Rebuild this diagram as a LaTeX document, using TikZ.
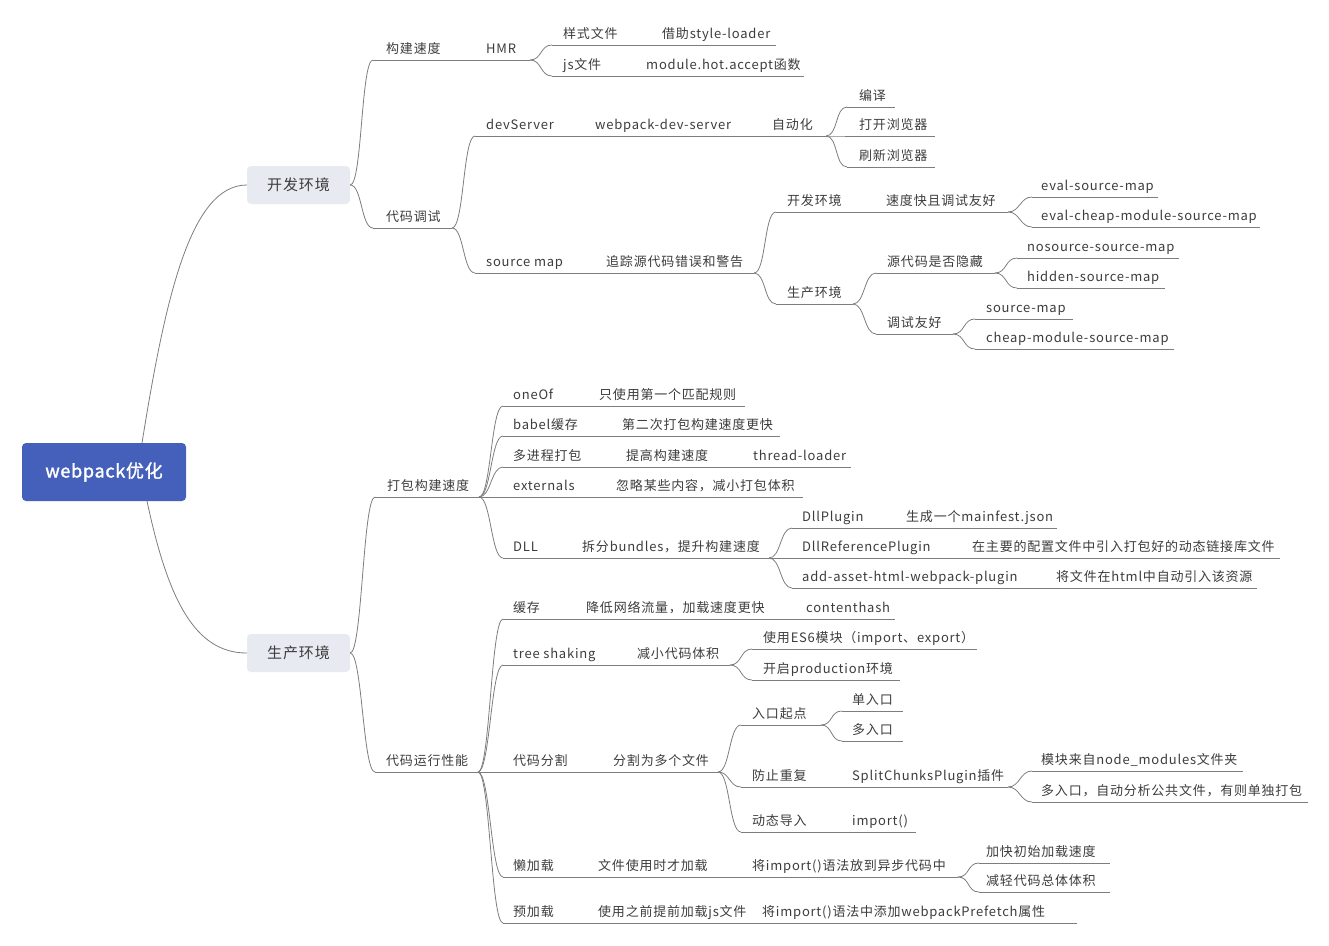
\documentclass[tikz,border=0pt]{standalone}
\usepackage{fontspec}
\newfontfamily\cjk[LetterSpace=6]{Noto Sans CJK SC}
\newfontfamily\cjkbold[LetterSpace=4,FakeBold=1.6]{Noto Sans CJK SC}
\definecolor{linegray}{RGB}{125,125,125}
\definecolor{txtgray}{RGB}{60,60,60}
\definecolor{rootblue}{RGB}{69,96,186}
\definecolor{boxfill}{RGB}{232,234,242}
\tikzset{
  uline/.style={draw=linegray, line width=0.8pt},
  txt/.style={anchor=base west, inner sep=0pt, text=txtgray, font=\cjk\fontsize{13}{15}\selectfont},
  rootbox/.style={fill=rootblue, rounded corners=4pt, minimum width=164pt, minimum height=58pt, inner sep=0pt, text=white, font=\cjkbold\fontsize{18}{20}\selectfont},
  envbox/.style={fill=boxfill, rounded corners=4pt, minimum width=103pt, minimum height=38pt, inner sep=0pt, text=txtgray, font=\cjk\fontsize{15}{17}\selectfont}
}
\newcommand\mmline[4]{\coordinate (#1s) at (#2,#4); \coordinate (#1e) at (#3,#4); \draw[uline] (#1s) -- (#1e);}
\newcommand\mmtxt[4]{\node[txt] (#1) at (#2,#3-7) {#4};}
\newcommand\mmconn[2]{\draw[uline] (#1) .. controls +(12,0) and +(-12,0) .. (#2);}
\begin{document}
\begin{tikzpicture}[x=1pt,y=-1pt]
\useasboundingbox (0,0) rectangle (1329,945);
% main boxes
\node[rootbox] (root) at (104,472) {webpack优化};
\node[envbox] (dev) at (298.5,185) {开发环境};
\node[envbox] (prod) at (298.5,653) {生产环境};
\coordinate (rootT) at (142,443);
\coordinate (rootB) at (147,501);
\draw[uline] (rootT) .. controls (165,300) and (190,185) .. (dev.west);
\draw[uline] (rootB) .. controls (168,600) and (195,653) .. (prod.west);

% ---------- development ----------
\mmline{L1}{373}{530}{60} \mmtxt{t1a}{386}{60}{构建速度} \mmtxt{t1b}{486}{60}{HMR}
\mmline{L2}{552}{776}{45} \mmtxt{t2a}{563}{45}{样式文件} \mmtxt{t2b}{662}{45}{借助style-loader}
\mmline{L3}{552}{804}{76} \mmtxt{t3a}{563}{76}{js文件} \mmtxt{t3b}{646}{76}{module.hot.accept函数}
\mmline{L4}{373}{452}{228} \mmtxt{t4a}{386}{228}{代码调试}
\mmline{L5}{475}{826}{136} \mmtxt{t5a}{486}{136}{devServer} \mmtxt{t5b}{595}{136}{webpack-dev-server} \mmtxt{t5c}{772}{136}{自动化}
\mmline{L6}{847}{895}{107} \mmtxt{t6a}{859}{107}{编译}
\mmline{L7}{847}{935}{136} \mmtxt{t7a}{859}{136}{打开浏览器}
\mmline{L8}{847}{935}{167} \mmtxt{t8a}{859}{167}{刷新浏览器}
\mmline{L9}{475}{754}{273} \mmtxt{t9a}{486}{273}{source map} \mmtxt{t9b}{606}{273}{追踪源代码错误和警告}
\mmline{L10}{776}{1008}{212} \mmtxt{t10a}{787}{212}{开发环境} \mmtxt{t10b}{886}{212}{速度快且调试友好}
\mmline{L11}{1032}{1158}{197} \mmtxt{t11a}{1041}{197}{eval-source-map}
\mmline{L12}{1032}{1260}{227} \mmtxt{t12a}{1041}{227}{eval-cheap-module-source-map}
\mmline{L13}{776}{853}{304} \mmtxt{t13a}{787}{304}{生产环境}
\mmline{L14}{876}{995}{273} \mmtxt{t14a}{887}{273}{源代码是否隐藏}
\mmline{L15}{1017}{1179}{258} \mmtxt{t15a}{1027}{258}{nosource-source-map}
\mmline{L16}{1017}{1165}{288} \mmtxt{t16a}{1027}{288}{hidden-source-map}
\mmline{L17}{876}{953}{334} \mmtxt{t17a}{887}{334}{调试友好}
\mmline{L18}{975}{1073}{319} \mmtxt{t18a}{986}{319}{source-map}
\mmline{L19}{975}{1174}{349} \mmtxt{t19a}{986}{349}{cheap-module-source-map}

\mmconn{dev.east}{L1s} \mmconn{dev.east}{L4s}
\mmconn{L1e}{L2s} \mmconn{L1e}{L3s}
\mmconn{L4e}{L5s} \mmconn{L4e}{L9s}
\mmconn{L5e}{L6s} \mmconn{L5e}{L7s} \mmconn{L5e}{L8s}
\mmconn{L9e}{L10s} \mmconn{L9e}{L13s}
\mmconn{L10e}{L11s} \mmconn{L10e}{L12s}
\mmconn{L13e}{L14s} \mmconn{L13e}{L17s}
\mmconn{L14e}{L15s} \mmconn{L14e}{L16s}
\mmconn{L17e}{L18s} \mmconn{L17e}{L19s}

% ---------- production ----------
\mmline{P1}{375}{479}{497} \mmtxt{p1a}{387}{497}{打包构建速度}
\mmline{P2}{503}{745}{406} \mmtxt{p2a}{513}{406}{oneOf} \mmtxt{p2b}{599}{406}{只使用第一个匹配规则}
\mmline{P3}{503}{780}{436} \mmtxt{p3a}{513}{436}{babel缓存} \mmtxt{p3b}{622}{436}{第二次打包构建速度更快}
\mmline{P4}{503}{851}{467} \mmtxt{p4a}{513}{467}{多进程打包} \mmtxt{p4b}{626}{467}{提高构建速度} \mmtxt{p4c}{753}{467}{thread-loader}
\mmline{P5}{503}{803}{497} \mmtxt{p5a}{513}{497}{externals} \mmtxt{p5b}{616}{497}{忽略某些内容，减小打包体积}
\mmline{P6}{503}{769}{558} \mmtxt{p6a}{513}{558}{DLL} \mmtxt{p6b}{582}{558}{拆分bundles，提升构建速度}
\mmline{P7}{792}{1057}{528} \mmtxt{p7a}{802}{528}{DllPlugin} \mmtxt{p7b}{906}{528}{生成一个mainfest.json}
\mmline{P8}{792}{1280}{558} \mmtxt{p8a}{802}{558}{DllReferencePlugin} \mmtxt{p8b}{972}{558}{在主要的配置文件中引入打包好的动态链接库文件}
\mmline{P9}{792}{1257}{588} \mmtxt{p9a}{802}{588}{add-asset-html-webpack-plugin} \mmtxt{p9b}{1056}{588}{将文件在html中自动引入该资源}
\mmline{P10}{375}{478}{772} \mmtxt{p10a}{386}{772}{代码运行性能}
\mmline{P11}{503}{895}{619} \mmtxt{p11a}{513}{619}{缓存} \mmtxt{p11b}{586}{619}{降低网络流量，加载速度更快} \mmtxt{p11c}{806}{619}{contenthash}
\mmline{P12}{503}{730}{665} \mmtxt{p12a}{513}{665}{tree shaking} \mmtxt{p12b}{637}{665}{减小代码体积}
\mmline{P13}{752}{977}{649} \mmtxt{p13a}{763}{649}{使用ES6模块（import、export）}
\mmline{P14}{752}{900}{680} \mmtxt{p14a}{763}{680}{开启production环境}
\mmline{P15}{503}{718}{772} \mmtxt{p15a}{513}{772}{代码分割} \mmtxt{p15b}{613}{772}{分割为多个文件}
\mmline{P16}{741}{821}{725} \mmtxt{p16a}{752}{725}{入口起点}
\mmline{P17}{842}{903}{711} \mmtxt{p17a}{852}{711}{单入口}
\mmline{P18}{842}{903}{741} \mmtxt{p18a}{852}{741}{多入口}
\mmline{P19}{741}{1008}{787} \mmtxt{p19a}{752}{787}{防止重复} \mmtxt{p19b}{852}{787}{SplitChunksPlugin插件}
\mmline{P20}{1032}{1243}{771} \mmtxt{p20a}{1041}{771}{模块来自node\_modules文件夹}
\mmline{P21}{1032}{1308}{802} \mmtxt{p21a}{1041}{802}{多入口，自动分析公共文件，有则单独打包}
\mmline{P22}{741}{916}{832} \mmtxt{p22a}{752}{832}{动态导入} \mmtxt{p22b}{852}{832}{import()}
\mmline{P23}{503}{958}{877} \mmtxt{p23a}{513}{877}{懒加载} \mmtxt{p23b}{598}{877}{文件使用时才加载} \mmtxt{p23c}{752}{877}{将import()语法放到异步代码中}
\mmline{P24}{979}{1110}{863} \mmtxt{p24a}{986}{863}{加快初始加载速度}
\mmline{P25}{979}{1110}{892} \mmtxt{p25a}{986}{892}{减轻代码总体体积}
\mmline{P26}{503}{1077}{923} \mmtxt{p26a}{513}{923}{预加载} \mmtxt{p26b}{598}{923}{使用之前提前加载js文件} \mmtxt{p26c}{762}{923}{将import()语法中添加webpackPrefetch属性}

\mmconn{prod.east}{P1s} \mmconn{prod.east}{P10s}
\mmconn{P1e}{P2s} \mmconn{P1e}{P3s} \mmconn{P1e}{P4s} \mmconn{P1e}{P5s} \mmconn{P1e}{P6s}
\mmconn{P6e}{P7s} \mmconn{P6e}{P8s} \mmconn{P6e}{P9s}
\mmconn{P10e}{P11s} \mmconn{P10e}{P12s} \mmconn{P10e}{P15s} \mmconn{P10e}{P23s} \mmconn{P10e}{P26s}
\mmconn{P12e}{P13s} \mmconn{P12e}{P14s}
\mmconn{P15e}{P16s} \mmconn{P15e}{P19s} \mmconn{P15e}{P22s}
\mmconn{P16e}{P17s} \mmconn{P16e}{P18s}
\mmconn{P19e}{P20s} \mmconn{P19e}{P21s}
\mmconn{P23e}{P24s} \mmconn{P23e}{P25s}
\end{tikzpicture}
\end{document}
